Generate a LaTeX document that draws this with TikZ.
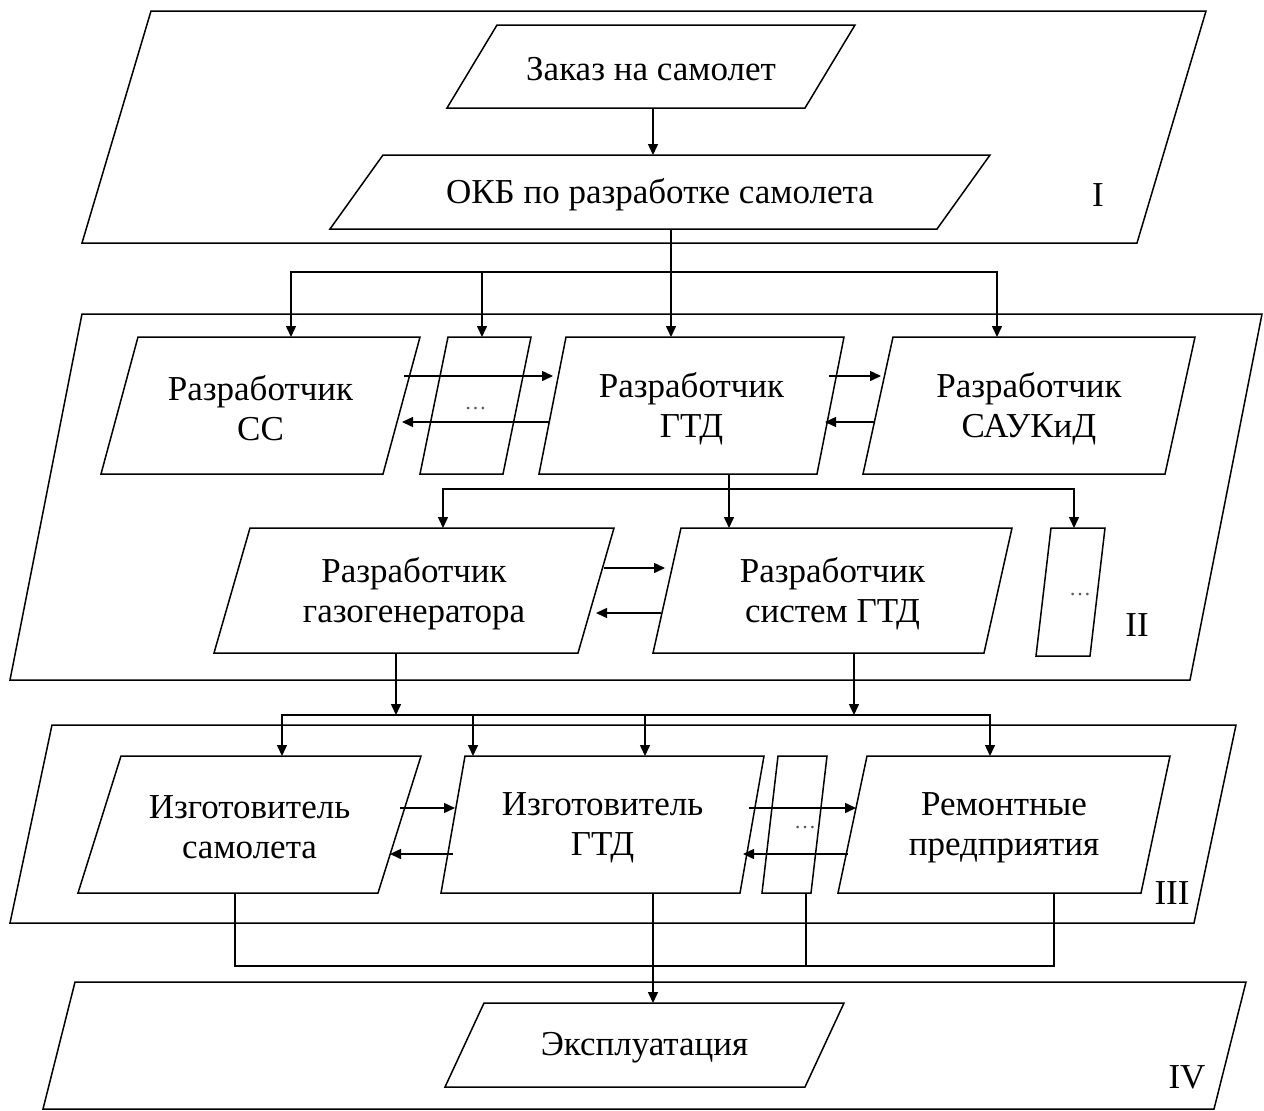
\documentclass[tikz,border=0pt]{standalone}
\usepackage{fontspec}
\setmainfont{Liberation Serif}
\usetikzlibrary{arrows.meta,calc}
\tikzset{
  boxline/.style={line width=1.5pt, line join=miter},
  boxshape/.style={inner sep=0pt, outer sep=0pt},
  boxtext/.style={inner sep=0pt, outer sep=0pt, align=center, font=\fontsize{35}{40}\selectfont},
  conn/.style={line width=1.5pt},
  arr/.style={conn, -{Triangle[length=11pt,width=10pt]}},
  lbl/.style={font=\fontsize{35}{40}\selectfont, inner sep=0pt},
}
% #1 name, #2 bottom-left x, #3 bottom y, #4 top-right x, #5 top y, #6 slant, #7 text
\newcommand\mkpar[7]{%
  \draw[boxline] (#2,#3) -- ({#4-#6},#3) -- (#4,#5) -- ({#2+#6},#5) -- cycle;
  \node[boxshape, minimum width={#4pt-#2pt}, minimum height={#3pt-#5pt}] (#1) at ({(#2+#4)/2},{(#3+#5)/2}) {};
  \node[boxtext] (#1-t) at ([yshift=-3pt]#1.center) {#7};}
\newcommand\dotstxt{{\fontsize{22}{26}\selectfont\color{black!65}…}}
\begin{document}
\begin{tikzpicture}[x=1pt,y=-1pt]
\useasboundingbox (0,0) rectangle (1264,1111);
% panels
\draw[boxline] (82,243) -- (1137,243) -- (1206,11) -- (151,11) -- cycle;
\draw[boxline] (10,680) -- (1190,680) -- (1262,314) -- (82,314) -- cycle;
\draw[boxline] (10,923) -- (1194,923) -- (1236,725) -- (52,725) -- cycle;
\draw[boxline] (43,1109) -- (1214,1109) -- (1246,982) -- (75,982) -- cycle;
\node[lbl] (lI) at (1098,195) {I};
\node[lbl] (lII) at (1137,625) {II};
\node[lbl] (lIII) at (1172,893) {III};
\node[lbl] (lIV) at (1187,1077) {IV};
% boxes
\mkpar{zak}{447}{108}{855}{25}{50}{Заказ на самолет}
\mkpar{okb}{330}{229}{990}{155}{53}{ОКБ по разработке самолета}
\mkpar{cc}{101}{474}{420}{337}{37}{Разработчик\\СС}
\mkpar{d1}{420}{474}{531}{337}{28}{\dotstxt}
\mkpar{gtd}{539}{474}{844}{337}{27}{Разработчик\\ГТД}
\mkpar{sau}{863}{474}{1195}{337}{30}{Разработчик\\САУКиД}
\mkpar{gaz}{214}{653}{614}{528}{36}{Разработчик\\газогенератора}
\mkpar{sys}{653}{653}{1012}{528}{28}{Разработчик\\систем ГТД}
\mkpar{d2}{1036}{656}{1105}{528}{15}{\hspace*{19pt}\dotstxt}
\mkpar{izs}{78}{893}{421}{756}{43}{Изготовитель\\самолета}
\mkpar{izg}{441}{893}{764}{756}{24}{Изготовитель\\ГТД}
\mkpar{d3}{762}{893}{827}{756}{16}{\hspace*{21pt}\dotstxt}
\mkpar{rem}{838}{893}{1170}{756}{29}{Ремонтные\\предприятия}
\mkpar{exp}{445}{1087}{844}{1003}{39}{Эксплуатация}
% level I
\coordinate (za) at ([xshift=2pt]zak.south);
\draw[arr] (za) -- (za |- okb.north);
\coordinate (j1) at (291,272);
\coordinate (j2) at (482,272);
\coordinate (j3) at (671,272);
\coordinate (j4) at (997,272);
\draw[arr] (okb.south -| j3) -- (j3 |- gtd.north);
\draw[arr] (j3) -- (j1) -- (j1 |- cc.north);
\draw[arr] (j3) -- (j4) -- (j4 |- sau.north);
\draw[arr] (j2) -- (j2 |- d1.north);
% level II horizontal
\draw[arr] ([xshift=-16pt,yshift=29.5pt]cc.east) -- ([xshift=14pt,yshift=29.5pt]gtd.west);
\draw[arr] ([xshift=10pt,yshift=-16.5pt]gtd.west) -- ([xshift=-18pt,yshift=-16.5pt]cc.east);
\draw[arr] ([xshift=-15pt,yshift=29.5pt]gtd.east) -- ([xshift=18pt,yshift=29.5pt]sau.west);
\draw[arr] ([xshift=12pt,yshift=-16.5pt]sau.west) -- ([xshift=-19pt,yshift=-16.5pt]gtd.east);
% level II down
\coordinate (k1) at (443,489);
\coordinate (k2) at (729,489);
\coordinate (k3) at (1074,489);
\draw[arr] (gtd.south -| k2) -- (k2 |- sys.north);
\draw[arr] (k2) -- (k1) -- (k1 |- gaz.north);
\draw[arr] (k2) -- (k3) -- (k3 |- d2.north);
\draw[arr] ([xshift=-10pt,yshift=22.5pt]gaz.east) -- ([xshift=12pt,yshift=22.5pt]sys.west);
\draw[arr] ([xshift=8pt,yshift=-22.5pt]sys.west) -- ([xshift=-18pt,yshift=-22.5pt]gaz.east);
% level III
\coordinate (m1) at (282,715);
\coordinate (m2) at (396,715);
\coordinate (m3) at (473,715);
\coordinate (m4) at (645,715);
\coordinate (m5) at (854,715);
\coordinate (m6) at (990,715);
\draw[arr] (gaz.south -| m2) -- (m2);
\draw[arr] (sys.south -| m5) -- (m5);
\draw[arr] (m2) -- (m1) -- (m1 |- izs.north);
\draw[arr] (m5) -- (m6) -- (m6 |- rem.north);
\draw[conn] (m2) -- (m5);
\draw[arr] (m3) -- (m3 |- izg.north);
\draw[arr] (m4) -- (m4 |- izg.north);
\draw[arr] ([xshift=-21pt,yshift=16.5pt]izs.east) -- ([xshift=14pt,yshift=16.5pt]izg.west);
\draw[arr] ([xshift=12pt,yshift=-29.5pt]izg.west) -- ([xshift=-31pt,yshift=-29.5pt]izs.east);
\draw[arr] ([xshift=-15pt,yshift=16.5pt]izg.east) -- ([xshift=18pt,yshift=16.5pt]rem.west);
\draw[arr] ([xshift=10pt,yshift=-29.5pt]rem.west) -- ([xshift=-21pt,yshift=-29.5pt]izg.east);
% level IV
\coordinate (n1) at (235,966);
\coordinate (n2) at (806,966);
\coordinate (n3) at (1054,966);
\coordinate (q) at (653,966);
\draw[conn] (izs.south -| n1) -- (n1) -- (n3) -- (rem.south -| n3);
\draw[conn] (d3.south -| n2) -- (n2);
\draw[arr] (izg.south -| q) -- (q |- exp.north);
\end{tikzpicture}
\end{document}
